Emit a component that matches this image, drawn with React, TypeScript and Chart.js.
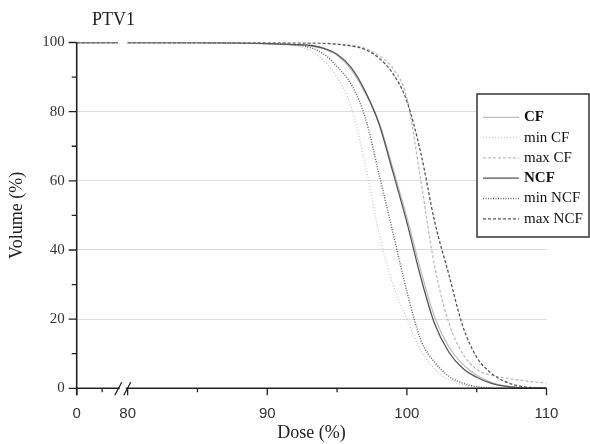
import React, { useEffect, useRef } from "react";
import { Chart, registerables } from "chart.js";

Chart.register(...registerables);

// ---------- data ----------
const TITLE = "PTV1";
const X_TITLE = "Dose (%)";
const Y_TITLE = "Volume (%)";

const X_TICKS = [0, 80, 90, 100, 110];
const X_MINOR = [40, 85, 95, 105];
const Y_TICKS = [0, 20, 40, 60, 80, 100];
const Y_MINOR = [10, 30, 50, 70, 90];

// volume at dose 0 (before the axis break)
const LOW_DOSE = 0;
const LOW_VOLUME = 100;

const DOSE = [80, 85, 88, 90, 92, 93, 94, 95, 96, 97, 98, 99, 100, 101, 102, 103, 104, 105, 106, 107, 108, 109, 110];

const VOL_CF = [100, 100, 99.9, 99.7, 99.3, 99, 98.2, 96.3, 92.2, 85.5, 77, 63.5, 49.5, 34, 20.5, 12, 7, 3.8, 1.8, 0.7, 0.2, 0.05, 0];
const VOL_MIN_CF = [100, 99.9, 99.8, 99.6, 99, 97.8, 95, 90, 81.5, 65, 45, 30, 20, 11, 5.5, 2.5, 1, 0.3, 0, 0, 0, 0, 0];
const VOL_MAX_CF = [100, 100, 100, 100, 99.9, 99.8, 99.7, 99.5, 99.2, 98.3, 96.2, 92.5, 84, 60, 35, 19, 10, 5.5, 3.8, 3, 2.4, 1.9, 1.5];
const VOL_NCF = [100, 100, 99.9, 99.7, 99.4, 99.2, 98.4, 96.6, 92.8, 86, 76.5, 62.5, 48, 32, 18.5, 10.5, 5.8, 3.2, 1.5, 0.6, 0.2, 0.05, 0];
const VOL_MIN_NCF = [100, 99.9, 99.8, 99.7, 99.3, 98.6, 96.8, 93, 88, 78.5, 62, 45, 28, 14, 7.5, 3.5, 1.5, 0.5, 0.1, 0, 0, 0, 0];
const VOL_MAX_NCF = [100, 100, 100, 100, 99.9, 99.9, 99.8, 99.5, 99, 98, 95.5, 91, 83, 68, 48, 33, 18, 9, 4.5, 2, 0.7, 0.2, 0];

const LABELS = ["CF", "min CF", "max CF", "NCF", "min NCF", "max NCF"];
const VALUES = [VOL_CF, VOL_MIN_CF, VOL_MAX_CF, VOL_NCF, VOL_MIN_NCF, VOL_MAX_NCF];
const BOLD = [true, false, false, true, false, false];

// ---------- styles ----------
const COLORS = ["#bcbcbc", "#c6c6c6", "#bdbdbd", "#555555", "#666666", "#555555"];
const DASHES = [[], [1, 2], [3, 2], [], [1, 1.5], [3, 2]];
const WIDTHS = [1.2, 1.3, 1.3, 1.3, 1.5, 1.3];

// broken axis: 0..80 compressed into [AXIS_MIN, 80]
const AXIS_MIN = 76.35;
const BREAK_START = 79.3;
const BREAK_END = 80;
const toAxis = (d: number) => (d >= 80 ? d : AXIS_MIN + (d / 80) * (BREAK_END - AXIS_MIN));

const SERIF = "'Liberation Serif', 'Times New Roman', serif";
const SANS = "'Liberation Sans', Arial, sans-serif";

const overlay = {
  id: "overlay",
  afterDraw(chart: any) {
    const ctx = chart.ctx;
    const xs = chart.scales.x;
    const ys = chart.scales.y;
    const area = chart.chartArea;
    ctx.save();
    ctx.strokeStyle = "#222";
    ctx.lineWidth = 1.6;
    // y axis
    ctx.beginPath();
    ctx.moveTo(area.left, ys.getPixelForValue(100));
    ctx.lineTo(area.left, area.bottom + 7);
    ctx.stroke();
    // x axis with break
    const bA = xs.getPixelForValue(BREAK_START);
    const bB = xs.getPixelForValue(BREAK_END);
    const bm = (bA + bB) / 2;
    ctx.beginPath();
    ctx.moveTo(area.left, area.bottom);
    ctx.lineTo(bm - 3, area.bottom);
    ctx.moveTo(bm + 3, area.bottom);
    ctx.lineTo(area.right, area.bottom);
    ctx.stroke();
    ctx.lineWidth = 1.3;
    ctx.beginPath();
    ctx.moveTo(bm - 8, area.bottom + 7);
    ctx.lineTo(bm - 1, area.bottom - 6);
    ctx.moveTo(bm + 1, area.bottom + 7);
    ctx.lineTo(bm + 8, area.bottom - 6);
    ctx.stroke();
    // y ticks
    ctx.lineWidth = 1.3;
    ctx.beginPath();
    Y_TICKS.forEach((v) => {
      const y = ys.getPixelForValue(v);
      ctx.moveTo(area.left - 8, y);
      ctx.lineTo(area.left, y);
    });
    Y_MINOR.forEach((v) => {
      const y = ys.getPixelForValue(v);
      ctx.moveTo(area.left - 5, y);
      ctx.lineTo(area.left, y);
    });
    // x ticks
    X_TICKS.forEach((v) => {
      const x = xs.getPixelForValue(toAxis(v));
      ctx.moveTo(x, area.bottom);
      ctx.lineTo(x, area.bottom + 7);
    });
    X_MINOR.forEach((v) => {
      const x = xs.getPixelForValue(toAxis(v));
      ctx.moveTo(x, area.bottom);
      ctx.lineTo(x, area.bottom + 4);
    });
    ctx.stroke();

    // title
    ctx.fillStyle = "#222";
    ctx.font = `18px ${SERIF}`;
    ctx.textAlign = "left";
    ctx.textBaseline = "middle";
    ctx.fillText(TITLE, 92, 20);

    // legend
    const bx = 477, by = 94, bw = 112, bh = 143;
    ctx.fillStyle = "#fff";
    ctx.fillRect(bx, by, bw, bh);
    ctx.strokeStyle = "#333";
    ctx.lineWidth = 1.5;
    ctx.strokeRect(bx, by, bw, bh);
    LABELS.forEach((lab, i) => {
      const y = 117.3 + i * 20.3;
      ctx.strokeStyle = COLORS[i];
      ctx.lineWidth = WIDTHS[i];
      ctx.setLineDash(DASHES[i]);
      ctx.beginPath();
      ctx.moveTo(483, y);
      ctx.lineTo(519, y);
      ctx.stroke();
      ctx.setLineDash([]);
      ctx.fillStyle = "#111";
      ctx.font = `${BOLD[i] ? "bold " : ""}15px ${SERIF}`;
      ctx.fillText(lab, 524, y);
    });
    ctx.restore();
  },
};

export default function App() {
  const ref = useRef<HTMLCanvasElement | null>(null);
  useEffect(() => {
    if (!ref.current) return;
    const datasets = LABELS.map((lab, i) => ({
      label: lab,
      data: [
        { x: toAxis(LOW_DOSE), y: LOW_VOLUME },
        { x: BREAK_START, y: LOW_VOLUME },
        { x: (BREAK_START + BREAK_END) / 2, y: null },
        ...DOSE.map((d, j) => ({ x: d, y: VALUES[i][j] })),
      ],
      borderColor: COLORS[i],
      borderWidth: WIDTHS[i],
      borderDash: DASHES[i],
      pointRadius: 0,
      fill: false,
      spanGaps: false,
      cubicInterpolationMode: "monotone" as const,
      order: i < 3 ? 2 : 1,
    }));
    const chart = new Chart(ref.current, {
      type: "line",
      data: { datasets },
      options: {
        animation: false,
        responsive: true,
        maintainAspectRatio: false,
        layout: { padding: { left: 0, right: 43.5, top: 42.5, bottom: 0 } },
        plugins: { legend: { display: false }, tooltip: { enabled: false }, title: { display: false } },
        scales: {
          x: {
            type: "linear",
            min: AXIS_MIN,
            max: 110,
            afterBuildTicks: (s: any) => {
              s.ticks = X_TICKS.map((v) => ({ value: toAxis(v) }));
            },
            afterFit: (s: any) => {
              s.height = 55.7;
            },
            grid: { display: false },
            border: { display: false },
            ticks: {
              autoSkip: false,
              maxRotation: 0,
              padding: 9,
              color: "#333",
              font: { family: SANS, size: 15 },
              callback: (_v: any, i: number) => String(X_TICKS[i]),
            },
            title: {
              display: true,
              text: X_TITLE,
              color: "#222",
              font: { family: SERIF, size: 18 },
              padding: { top: 0, bottom: 0 },
            },
          },
          y: {
            min: 0,
            max: 100,
            afterFit: (s: any) => {
              s.width = 76.7;
            },
            afterBuildTicks: (s: any) => {
              s.ticks = Y_TICKS.map((v) => ({ value: v }));
            },
            grid: {
              drawTicks: false,
              color: (c: any) => (c.tick && (c.tick.value === 0 || c.tick.value === 100) ? "rgba(0,0,0,0)" : "#dcdcdc"),
              lineWidth: 1,
            },
            border: { display: false },
            ticks: {
              padding: 12,
              color: "#333",
              font: { family: SERIF, size: 15 },
            },
            title: {
              display: true,
              text: Y_TITLE,
              color: "#222",
              font: { family: SERIF, size: 18 },
              padding: { top: 6, bottom: 0 },
            },
          },
        },
      },
      plugins: [overlay],
    });
    return () => chart.destroy();
  }, []);
  return (
    <div style={{ position: "absolute", left: 0, top: 0, width: 590, height: 444, background: "#fff" }}>
      <canvas ref={ref} />
    </div>
  );
}
